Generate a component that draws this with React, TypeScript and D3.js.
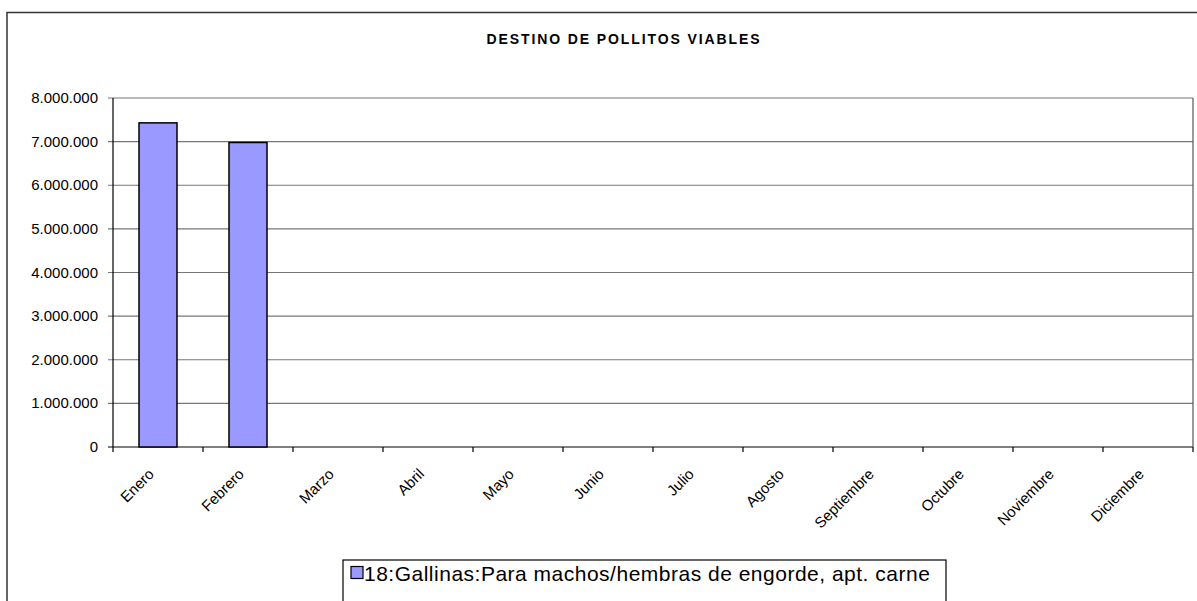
import React from "react";
import * as d3 from "d3";

const title = "DESTINO DE POLLITOS VIABLES";
const months = ["Enero", "Febrero", "Marzo", "Abril", "Mayo", "Junio", "Julio", "Agosto", "Septiembre", "Octubre", "Noviembre", "Diciembre"];
const values: (number | null)[] = [7430000, 6980000, null, null, null, null, null, null, null, null, null, null];
const yTicks = [0, 1000000, 2000000, 3000000, 4000000, 5000000, 6000000, 7000000, 8000000];
const seriesName = "18:Gallinas:Para machos/hembras de engorde, apt. carne";

const W = 1197, H = 601;
const plot = { left: 113, top: 98, right: 1193, bottom: 447 };

const fmt = (v: number) => {
  const s = Math.round(v).toString();
  return s.replace(/\B(?=(\d{3})+(?!\d))/g, ".");
};

export default function App() {
  const x = d3.scaleBand<string>().domain(months).range([plot.left, plot.right]).paddingInner(0).paddingOuter(0);
  const y = d3.scaleLinear().domain([0, 8000000]).range([plot.bottom, plot.top]);
  const barW = 38;
  return (
    <svg width={W} height={H} style={{ position: "absolute", left: 0, top: 0, background: "#fff" }} fontFamily="Arial, 'Liberation Sans', sans-serif">
      <rect x={7} y={12.5} width={1200} height={620} fill="none" stroke="#333" strokeWidth={1.5} />
      <text x={624} y={43.5} textAnchor="middle" fontSize={14} fontWeight="bold" letterSpacing={1.9} fill="#000">{title}</text>
      {yTicks.map((t) => (
        <g key={t}>
          <line x1={plot.left - 5} x2={plot.right} y1={y(t)} y2={y(t)} stroke={t === 0 ? "#000" : "#777"} strokeWidth={1.2} />
          <text x={98} y={y(t) + 5} textAnchor="end" fontSize={15} fill="#000">{fmt(t)}</text>
        </g>
      ))}
      <line x1={plot.right} x2={plot.right} y1={plot.top} y2={plot.bottom} stroke="#555" strokeWidth={1.2} />
      <line x1={plot.left} x2={plot.left} y1={plot.top} y2={plot.bottom + 5} stroke="#000" strokeWidth={1.2} />
      {months.map((m) => (
        <line key={"t" + m} x1={x(m)! + x.bandwidth()} x2={x(m)! + x.bandwidth()} y1={plot.bottom} y2={plot.bottom + 5} stroke="#000" strokeWidth={1.2} />
      ))}
      {months.map((m, i) => {
        const v = values[i];
        if (v == null) return null;
        const cx = x(m)! + x.bandwidth() / 2;
        return <rect key={"b" + m} x={cx - barW / 2} y={y(v)} width={barW} height={plot.bottom - y(v)} fill="#9999FF" stroke="#000" strokeWidth={1.5} />;
      })}
      {months.map((m) => {
        const cx = x(m)! + x.bandwidth() / 2;
        const ax = cx - 3, ay = 475;
        return (
          <text key={"l" + m} x={ax} y={ay} textAnchor="end" fontSize={15} fill="#000" transform={`rotate(-45 ${ax} ${ay})`}>{m}</text>
        );
      })}
      <rect x={343} y={560} width={603} height={60} fill="#fff" stroke="#000" strokeWidth={1.2} />
      <rect x={351} y={566.5} width={12} height={12} fill="#9999FF" stroke="#000" strokeWidth={1.2} />
      <text x={364} y={580.5} fontSize={21} letterSpacing={0.5} fill="#000">{seriesName}</text>
    </svg>
  );
}
